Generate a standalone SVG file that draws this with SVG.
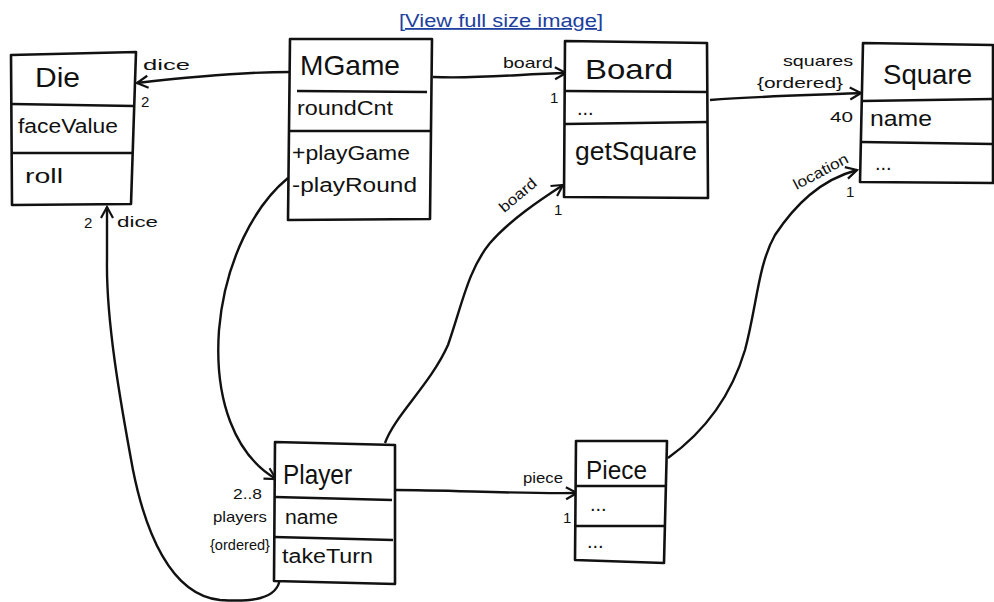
<svg xmlns="http://www.w3.org/2000/svg" width="994" height="602" viewBox="0 0 994 602">
<style>
.box{fill:#fff;stroke:#111;stroke-width:2.6;stroke-linejoin:round}
.div{stroke:#111;stroke-width:2.6;fill:none}
.t{font-family:"Liberation Sans",Arial,sans-serif;fill:#111}
.title{font-size:28px}
.attr{font-size:20px}
.lbl{font-family:"Liberation Sans",Arial,sans-serif;fill:#111;font-size:15px}
.conn{fill:none;stroke:#111;stroke-width:2.4}
.link{font-family:"Liberation Sans",Arial,sans-serif;font-size:18px;fill:#1d3f9e;text-decoration:underline}
</style>
<defs>
<marker id="arr" markerUnits="userSpaceOnUse" markerWidth="16" markerHeight="16" refX="13" refY="8" orient="auto">
<path d="M2,2 L13,8 L2,14" fill="none" stroke="#111" stroke-width="2.2"/>
</marker>
</defs>
<rect width="994" height="602" fill="#fff"/>
<text class="link" x="399" y="27" textLength="204" lengthAdjust="spacingAndGlyphs">[View full size image]</text>

<g id="connectors">
<path class="conn" d="M290,72 C240,72 180,78 137,83" marker-end="url(#arr)"/>
<path class="conn" d="M433,77 C480,79 520,74 566,73" marker-end="url(#arr)"/>
<path class="conn" d="M710,100 C760,96 820,95 861,93" marker-end="url(#arr)"/>
<path class="conn" d="M385,443 C395,415 430,385 448,345 C462,305 468,270 490,243 C510,220 540,200 563,185" marker-end="url(#arr)"/>
<path class="conn" d="M668,458 C700,435 730,400 745,350 C757,305 758,265 775,235 C795,205 820,180 857,170" marker-end="url(#arr)"/>
<path class="conn" d="M395,490 C450,490 520,494 577,493" marker-end="url(#arr)"/>
<path class="conn" d="M288,178 C255,205 225,260 219,330 C214,400 235,455 276,479" marker-end="url(#arr)"/>
<path class="conn" d="M280,578 C278,600 250,602 220,600 C170,595 145,530 133,470 C120,400 106,320 107,260 L107,207" marker-end="url(#arr)"/>
<text class="lbl" x="143" y="70" textLength="47" lengthAdjust="spacingAndGlyphs">dice</text>
<text class="lbl" x="141" y="107">2</text>
<text class="lbl" x="503" y="68" textLength="50" lengthAdjust="spacingAndGlyphs">board</text>
<text class="lbl" x="550" y="103">1</text>
<text class="lbl" x="783" y="66" textLength="70" lengthAdjust="spacingAndGlyphs">squares</text>
<text class="lbl" x="757" y="88" textLength="86" lengthAdjust="spacingAndGlyphs">{ordered}</text>
<text class="lbl" x="830" y="122" textLength="23" lengthAdjust="spacingAndGlyphs">40</text>
<text class="lbl" transform="translate(521,199) rotate(-40)" x="-22" y="0" textLength="44" lengthAdjust="spacingAndGlyphs">board</text>
<text class="lbl" x="554" y="215">1</text>
<text class="lbl" transform="translate(823,176) rotate(-28)" x="-30" y="0" textLength="60" lengthAdjust="spacingAndGlyphs">location</text>
<text class="lbl" x="846" y="197">1</text>
<text class="lbl" x="523" y="483" textLength="40" lengthAdjust="spacingAndGlyphs">piece</text>
<text class="lbl" x="563" y="523">1</text>
<text class="lbl" x="233" y="499" textLength="29" lengthAdjust="spacingAndGlyphs">2..8</text>
<text class="lbl" x="213" y="522" textLength="54" lengthAdjust="spacingAndGlyphs">players</text>
<text class="lbl" x="210" y="550" textLength="60" lengthAdjust="spacingAndGlyphs">{ordered}</text>
<text class="lbl" x="84" y="228">2</text>
<text class="lbl" x="117" y="227" textLength="41" lengthAdjust="spacingAndGlyphs">dice</text>
</g>

<g id="Die">
<polygon class="box" points="11,55 136,52 131,204 12,205"/>
<path class="div" d="M12,104 L134,106 M12,153 L132,153"/>
<text class="t title" x="35" y="87" textLength="45" lengthAdjust="spacingAndGlyphs">Die</text>
<text class="t attr" x="18" y="133" textLength="100" lengthAdjust="spacingAndGlyphs">faceValue</text>
<text class="t attr" x="25" y="183" textLength="38" lengthAdjust="spacingAndGlyphs">roll</text>
</g>

<g id="MGame">
<polygon class="box" points="290,39 432,39 430,219 288,220"/>
<path class="div" d="M297,91 L427,92 M289,131 L430,131"/>
<text class="t title" x="300" y="75" textLength="100" lengthAdjust="spacingAndGlyphs">MGame</text>
<text class="t attr" x="297" y="115" textLength="96" lengthAdjust="spacingAndGlyphs">roundCnt</text>
<text class="t attr" x="292" y="160" textLength="118" lengthAdjust="spacingAndGlyphs">+playGame</text>
<text class="t attr" x="292" y="192" textLength="125" lengthAdjust="spacingAndGlyphs">-playRound</text>
</g>

<g id="Board">
<polygon class="box" points="565,41 707,43 708,198 564,197"/>
<path class="div" d="M565,91 L708,92 M565,124 L708,122"/>
<text class="t title" x="585" y="79" textLength="88" lengthAdjust="spacingAndGlyphs">Board</text>
<text class="t attr" x="577" y="115">...</text>
<text class="t" style="font-size:26px" x="575" y="160" textLength="122" lengthAdjust="spacingAndGlyphs">getSquare</text>
</g>

<g id="Square">
<polygon class="box" points="863,43 993,45 993,183 860,182"/>
<path class="div" d="M862,101 L993,99 M861,142 L993,144"/>
<text class="t title" x="883" y="84" textLength="89" lengthAdjust="spacingAndGlyphs">Square</text>
<text class="t" style="font-size:22px" x="870" y="126" textLength="62" lengthAdjust="spacingAndGlyphs">name</text>
<text class="t attr" x="875" y="170">...</text>
</g>

<g id="Player">
<polygon class="box" points="275,442 395,445 395,584 274,581"/>
<path class="div" d="M275,497 L392,500 M274,537 L393,540"/>
<text class="t title" x="283" y="484" textLength="69" lengthAdjust="spacingAndGlyphs">Player</text>
<text class="t attr" x="285" y="524" textLength="53" lengthAdjust="spacingAndGlyphs">name</text>
<text class="t attr" x="282" y="563" textLength="91" lengthAdjust="spacingAndGlyphs">takeTurn</text>
</g>

<g id="Piece">
<polygon class="box" points="576,441 667,441 664,563 575,560"/>
<path class="div" d="M576,486 L665,486 M576,526 L665,526"/>
<text class="t" style="font-size:26px" x="586" y="479" textLength="61" lengthAdjust="spacingAndGlyphs">Piece</text>
<text class="t attr" x="590" y="511">...</text>
<text class="t attr" x="587" y="548">...</text>
</g>
</svg>
